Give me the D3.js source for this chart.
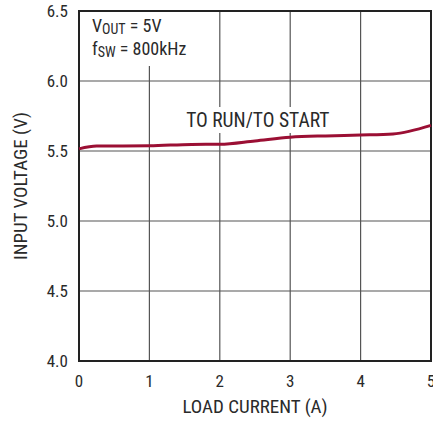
<!DOCTYPE html>
<html>
<head>
<meta charset="utf-8">
<script src="https://cdn.jsdelivr.net/npm/d3@7"></script>
<style>
  body { margin: 0; background: #fff; }
  text { font-family: "Liberation Sans Narrow", "Arial Narrow", "Roboto Condensed", "Liberation Sans", sans-serif; fill: #2a2a2a; }
</style>
</head>
<body>
<svg id="chart"></svg>
<script>
// data
var loadCurrent = [0, 0.25, 1, 1.6, 2, 2.5, 3, 3.5, 4, 4.46, 5];
var inputVoltage = [5.515, 5.535, 5.537, 5.547, 5.548, 5.572, 5.598, 5.608, 5.614, 5.622, 5.683];
var xTicks = [0, 1, 2, 3, 4, 5];
var yTicks = [4.0, 4.5, 5.0, 5.5, 6.0, 6.5];

var margin = {top: 11, right: 2, bottom: 62, left: 79},
    width = 433 - margin.left - margin.right,
    height = 423 - margin.top - margin.bottom;

var svg = d3.select("#chart")
    .attr("width", 433)
    .attr("height", 423)
    .append("g")
    .attr("transform", "translate(" + margin.left + "," + margin.top + ")");

var x = d3.scaleLinear().domain([0, 5]).range([0, width]);
var y = d3.scaleLinear().domain([4, 6.5]).range([height, 0]);

// grid
svg.append("g")
    .selectAll("line.v")
    .data(xTicks.slice(1, -1))
    .enter().append("line")
    .attr("x1", function(d) { return x(d); })
    .attr("x2", function(d) { return x(d); })
    .attr("y1", 0).attr("y2", height)
    .attr("stroke", "#555").attr("stroke-width", 1.2);

svg.append("g")
    .selectAll("line.h")
    .data(yTicks.slice(1, -1))
    .enter().append("line")
    .attr("x1", 0).attr("x2", width)
    .attr("y1", function(d) { return y(d); })
    .attr("y2", function(d) { return y(d); })
    .attr("stroke", "#555").attr("stroke-width", 1.2);

// white boxes behind the labels
svg.append("rect").attr("x", 8).attr("y", 1).attr("width", 120).attr("height", 54).attr("fill", "#fff");
svg.append("rect").attr("x", 106).attr("y", 96).attr("width", 146).attr("height", 26).attr("fill", "#fff");

// frame
svg.append("rect")
    .attr("width", width).attr("height", height)
    .attr("fill", "none").attr("stroke", "#222").attr("stroke-width", 2);

// the curve
var line = d3.line()
    .x(function(d, i) { return x(loadCurrent[i]); })
    .y(function(d) { return y(d); })
    .curve(d3.curveMonotoneX);

svg.append("path")
    .datum(inputVoltage)
    .attr("d", line)
    .attr("fill", "none")
    .attr("stroke", "#9b0f34")
    .attr("stroke-width", 3);

// tick labels
svg.selectAll("text.yt")
    .data(yTicks)
    .enter().append("text")
    .attr("x", -11)
    .attr("y", function(d) { return y(d) + 6; })
    .attr("text-anchor", "end")
    .style("font-size", "17px")
    .text(function(d) { return d.toFixed(1); });

svg.selectAll("text.xt")
    .data(xTicks)
    .enter().append("text")
    .attr("x", function(d) { return x(d); })
    .attr("y", height + 26)
    .attr("text-anchor", "middle")
    .style("font-size", "17px")
    .text(function(d) { return d; });

// axis titles
svg.append("text")
    .attr("x", width / 2)
    .attr("y", height + 52)
    .attr("text-anchor", "middle")
    .style("font-size", "19px")
    .text("LOAD CURRENT (A)");

svg.append("text")
    .attr("transform", "rotate(-90)")
    .attr("x", -175)
    .attr("y", -52)
    .attr("text-anchor", "middle")
    .style("font-size", "19px")
    .text("INPUT VOLTAGE (V)");

// annotations
var t1 = svg.append("text").attr("x", 13).attr("y", 21).style("font-size", "18px");
t1.append("tspan").text("V");
t1.append("tspan").attr("dy", 2).style("font-size", "14px").text("OUT");
t1.append("tspan").attr("dy", -2).text(" = 5V");

var t2 = svg.append("text").attr("x", 13).attr("y", 44).style("font-size", "18px");
t2.append("tspan").text("f");
t2.append("tspan").attr("dy", 2).style("font-size", "14px").text("SW");
t2.append("tspan").attr("dy", -2).text(" = 800kHz");

svg.append("text")
    .attr("x", x(2.54))
    .attr("y", 116)
    .attr("text-anchor", "middle")
    .style("font-size", "19.5px")
    .text("TO RUN/TO START");
</script>
</body>
</html>
